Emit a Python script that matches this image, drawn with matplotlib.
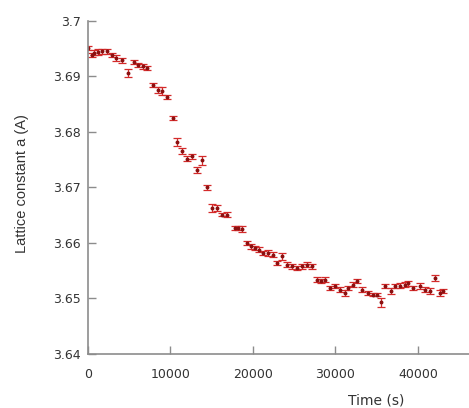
import matplotlib
matplotlib.use("Agg")
import matplotlib.pyplot as plt

# time (s) and lattice constant a
time_s = [0, 450, 760, 1250, 1730, 2270, 2870, 3390, 4080, 4880,
          5570, 6100, 6700, 7190, 7840, 8450, 8930, 9540, 10270, 10750,
          11360, 12030, 12570, 13170, 13780, 14390, 14990, 15670, 16200, 16810,
          17820, 18220, 18630, 19240, 19720, 20240, 20760, 21250, 21850, 22460,
          22870, 23480, 24080, 24690, 25290, 25900, 26500, 27110, 27720, 28200,
          28720, 29330, 29940, 30540, 31150, 31550, 32080, 32570, 33170, 33970,
          34580, 34990, 35480, 36000, 36690, 37210, 37810, 38420, 38820, 39430,
          40240, 40840, 41450, 42060, 42660, 43060]
lattice_a = [3.6951, 3.6939, 3.6943, 3.6944, 3.6945, 3.6945, 3.6939, 3.6933, 3.6929, 3.6906,
             3.6926, 3.6921, 3.6918, 3.6915, 3.6885, 3.6876, 3.6874, 3.6863, 3.6825, 3.6782,
             3.6766, 3.6752, 3.6756, 3.6731, 3.6749, 3.6700, 3.6663, 3.6663, 3.6651, 3.6651,
             3.6627, 3.6627, 3.6625, 3.6600, 3.6594, 3.6591, 3.6588, 3.6582, 3.6582, 3.6579,
             3.6564, 3.6576, 3.6561, 3.6558, 3.6555, 3.6558, 3.6561, 3.6558, 3.6534, 3.6531,
             3.6534, 3.6519, 3.6522, 3.6516, 3.6510, 3.6519, 3.6525, 3.6531, 3.6516, 3.6510,
             3.6507, 3.6507, 3.6493, 3.6522, 3.6513, 3.6522, 3.6523, 3.6525, 3.6527, 3.6519,
             3.6522, 3.6516, 3.6513, 3.6537, 3.6510, 3.6513]
lattice_err = [0.0004, 0.0004, 0.0004, 0.0005, 0.0004, 0.0004, 0.0004, 0.0005, 0.0004, 0.0007,
               0.0004, 0.0004, 0.0004, 0.0004, 0.0004, 0.0005, 0.0007, 0.0004, 0.0003, 0.0008,
               0.0005, 0.0005, 0.0005, 0.0005, 0.0008, 0.0004, 0.0008, 0.0005, 0.0003, 0.0004,
               0.0004, 0.0004, 0.0006, 0.0003, 0.0004, 0.0004, 0.0004, 0.0004, 0.0005, 0.0004,
               0.0004, 0.0006, 0.0004, 0.0004, 0.0004, 0.0004, 0.0004, 0.0004, 0.0004, 0.0004,
               0.0005, 0.0004, 0.0004, 0.0004, 0.0005, 0.0004, 0.0004, 0.0004, 0.0004, 0.0004,
               0.0003, 0.0003, 0.0008, 0.0004, 0.0005, 0.0004, 0.0004, 0.0004, 0.0005, 0.0004,
               0.0005, 0.0005, 0.0005, 0.0006, 0.0005, 0.0004]

fig = plt.figure(figsize=(4.69, 4.08), dpi=100)
ax = fig.add_axes([0.1876, 0.1324, 0.8124, 0.8162])

ax.errorbar(time_s, lattice_a, yerr=lattice_err, fmt='o', ms=1.8,
            mfc='#8b1010', mec='#8b1010', ecolor='#d42a2a', elinewidth=0.9,
            capsize=2.8, capthick=0.9)

ax.set_xlim(0, 46200)
ax.set_ylim(3.64, 3.70)
ax.set_xticks([0, 10000, 20000, 30000, 40000])
ax.set_yticks([3.64, 3.65, 3.66, 3.67, 3.68, 3.69, 3.70])
ax.set_yticklabels(['3.64', '3.65', '3.66', '3.67', '3.68', '3.69', '3.7'])

for side in ['top', 'right']:
    ax.spines[side].set_visible(False)
for side in ['left', 'bottom']:
    ax.spines[side].set_color('#8c8c8c')
    ax.spines[side].set_linewidth(1.2)

ax.tick_params(axis='both', direction='in', colors='#8c8c8c', labelcolor='#333333',
               labelsize=9, length=5.5, width=1)
ax.tick_params(axis='x', pad=10)
ax.tick_params(axis='y', pad=5)

fig.text(22 / 469, 1 - 183.5 / 408, 'Lattice constant a (A)', family='Liberation Sans',
         fontsize=10.5, color='#333333', rotation=90, ha='center', va='center')
fig.text(376.5 / 469, 1 - 400 / 408, 'Time (s)', fontsize=10, color='#333333',
         ha='center', va='center')

fig.savefig('out.png', dpi=100)
